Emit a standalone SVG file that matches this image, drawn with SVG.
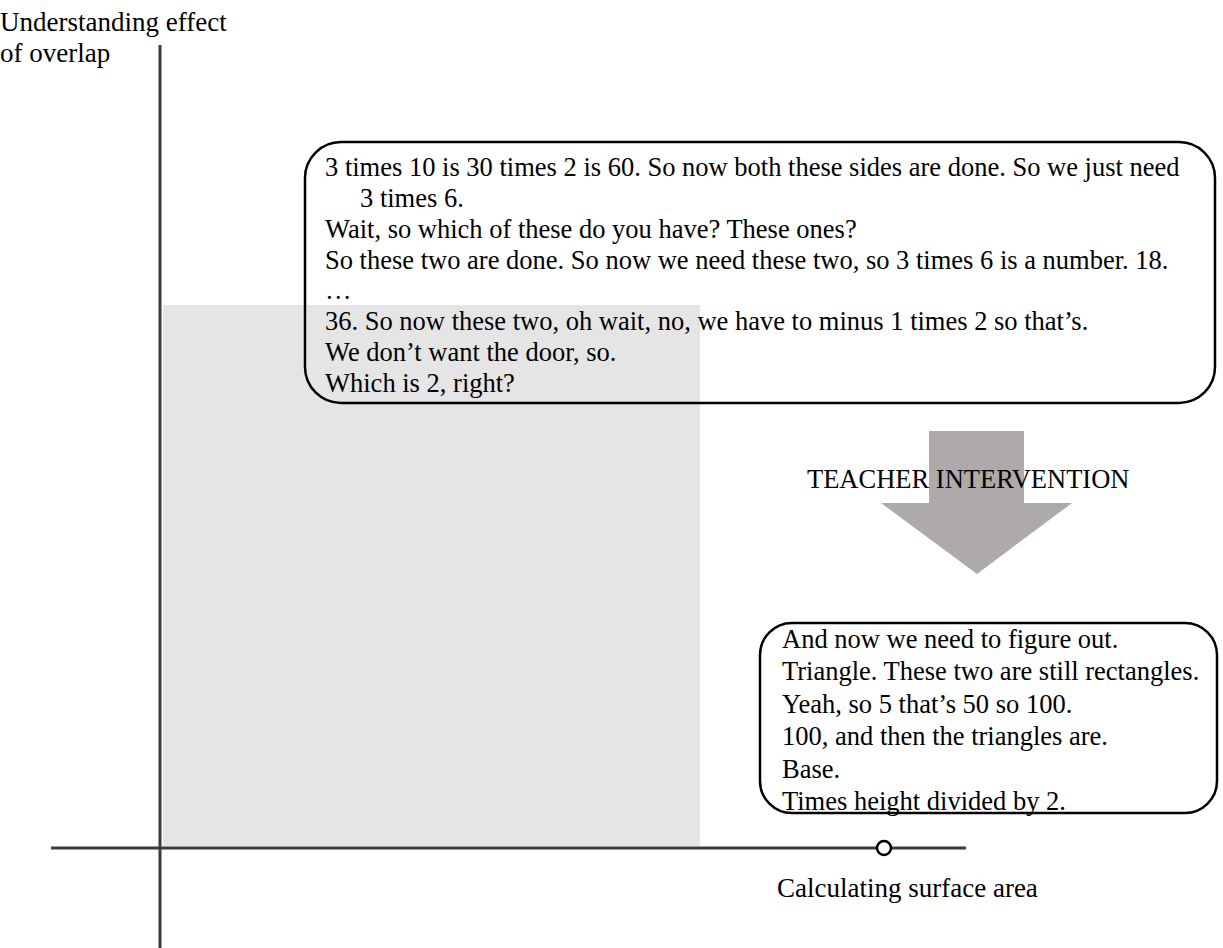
<svg xmlns="http://www.w3.org/2000/svg" width="1223" height="948" viewBox="0 0 1223 948">
  <style>
    text { font-family: "Liberation Serif", "Times New Roman", serif; fill: #000; }
    .lbl { font-size: 27px; }
    .say { font-size: 26.5px; }
    .axis { stroke: #3c3c3c; stroke-width: 3; fill: none; }
    .bubble { fill: none; stroke: #000; stroke-width: 2.5; }
  </style>

  <!-- shaded region of the chart -->
  <rect id="region" x="163" y="305" width="537" height="541" fill="#e5e5e5"/>

  <!-- axes -->
  <g id="axes">
    <line class="axis" x1="160" y1="45" x2="160" y2="948"/>
    <line class="axis" x1="51" y1="848" x2="966" y2="848"/>
  </g>

  <g id="y-label">
    <text class="lbl" x="0" y="31">Understanding effect</text>
    <text class="lbl" x="0" y="62">of overlap</text>
  </g>

  <g id="x-label">
    <text class="lbl" x="777" y="897">Calculating surface area</text>
  </g>

  <g id="x-marker">
    <circle cx="884" cy="848" r="7" fill="#fff" stroke="#000" stroke-width="2.5"/>
  </g>

  <!-- transcript before the intervention -->
  <g id="before">
    <rect class="bubble" x="305" y="142" width="910" height="261" rx="36" ry="36"/>
    <text class="say" x="325" y="176">3 times 10 is 30 times 2 is 60. So now both these sides are done. So we just need</text>
    <text class="say" x="360" y="207">3 times 6.</text>
    <text class="say" x="325" y="238">Wait, so which of these do you have? These ones?</text>
    <text class="say" x="325" y="269">So these two are done. So now we need these two, so 3 times 6 is a number. 18.</text>
    <text class="say" x="325" y="299">…</text>
    <text class="say" x="325" y="330">36. So now these two, oh wait, no, we have to minus 1 times 2 so that’s.</text>
    <text class="say" x="325" y="361">We don’t want the door, so.</text>
    <text class="say" x="325" y="392">Which is 2, right?</text>
  </g>

  <!-- intervention arrow -->
  <g id="intervention">
    <polygon points="929,431 1024,431 1024,503 1072,503 977,574 881,503 929,503" fill="#aeaaaa"/>
    <text class="say" x="807" y="488">TEACHER INTERVENTION</text>
  </g>

  <!-- transcript after the intervention -->
  <g id="after">
    <rect class="bubble" x="760" y="623" width="457" height="190" rx="32" ry="32"/>
    <text class="say" x="782" y="648">And now we need to figure out.</text>
    <text class="say" x="782" y="680">Triangle. These two are still rectangles.</text>
    <text class="say" x="782" y="713">Yeah, so 5 that’s 50 so 100.</text>
    <text class="say" x="782" y="745">100, and then the triangles are.</text>
    <text class="say" x="782" y="778">Base.</text>
    <text class="say" x="782" y="810">Times height divided by 2.</text>
  </g>
</svg>
